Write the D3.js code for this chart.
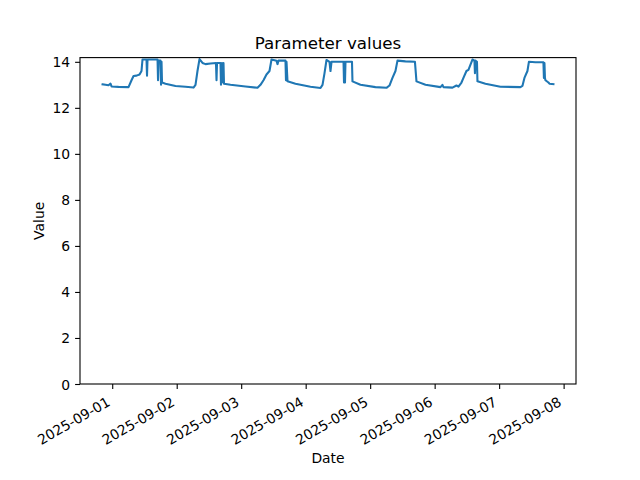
<!DOCTYPE html>
<html><head><meta charset="utf-8">
<script src="https://cdn.jsdelivr.net/npm/d3@7"></script>
<style>body{margin:0;background:#fff}svg{display:block}text{font-family:"DejaVu Sans",sans-serif;fill:#000}</style>
</head><body>
<script>
const times = [
"2025-08-31T20:24","2025-08-31T21:30","2025-08-31T22:37","2025-08-31T23:22","2025-08-31T23:45",
"2025-09-01T02:20","2025-09-01T06:04","2025-09-01T07:11","2025-09-01T07:56","2025-09-01T09:03",
"2025-09-01T10:10","2025-09-01T10:54","2025-09-01T11:16","2025-09-01T12:46","2025-09-01T12:57",
"2025-09-01T13:08","2025-09-01T16:52","2025-09-01T17:03","2025-09-01T17:14","2025-09-01T17:58",
"2025-09-01T18:10","2025-09-01T18:21","2025-09-01T18:32","2025-09-01T19:50","2025-09-01T23:33",
"2025-09-02T03:16","2025-09-02T06:15","2025-09-02T07:00","2025-09-02T07:44","2025-09-02T08:29",
"2025-09-02T09:36","2025-09-02T10:43","2025-09-02T12:35","2025-09-02T14:37","2025-09-02T14:49",
"2025-09-02T15:00","2025-09-02T16:18","2025-09-02T16:29","2025-09-02T16:51","2025-09-02T17:14",
"2025-09-02T17:25","2025-09-02T17:36","2025-09-02T20:01","2025-09-03T01:36","2025-09-03T06:04",
"2025-09-03T07:11","2025-09-03T08:18","2025-09-03T09:25","2025-09-03T10:32","2025-09-03T11:17",
"2025-09-03T13:08","2025-09-03T13:31","2025-09-03T13:53","2025-09-03T16:29","2025-09-03T16:40",
"2025-09-03T16:52","2025-09-03T17:14","2025-09-03T20:12","2025-09-04T01:47","2025-09-04T05:31",
"2025-09-04T06:16","2025-09-04T07:00","2025-09-04T07:45","2025-09-04T08:52","2025-09-04T09:14",
"2025-09-04T09:37","2025-09-04T14:05","2025-09-04T14:16","2025-09-04T14:27","2025-09-04T14:38",
"2025-09-04T14:49","2025-09-04T17:14","2025-09-04T17:25","2025-09-04T20:23","2025-09-05T01:58",
"2025-09-05T06:04","2025-09-05T07:11","2025-09-05T08:18","2025-09-05T09:25","2025-09-05T10:10",
"2025-09-05T13:08","2025-09-05T16:40","2025-09-05T17:14","2025-09-05T20:35","2025-09-06T02:10",
"2025-09-06T02:54","2025-09-06T03:17","2025-09-06T06:38","2025-09-06T08:07","2025-09-06T08:52",
"2025-09-06T09:59","2025-09-06T10:43","2025-09-06T11:50","2025-09-06T12:35","2025-09-06T14:04",
"2025-09-06T14:49","2025-09-06T15:00","2025-09-06T15:11","2025-09-06T15:45","2025-09-06T15:56",
"2025-09-06T18:54","2025-09-07T00:29","2025-09-07T07:56","2025-09-07T08:40","2025-09-07T09:25",
"2025-09-07T10:32","2025-09-07T11:05","2025-09-07T13:31","2025-09-07T16:29","2025-09-07T16:40",
"2025-09-07T16:52","2025-09-07T17:03","2025-09-07T17:14","2025-09-07T18:21","2025-09-07T18:43",
"2025-09-07T20:13"];
const values = [
13.02,13.0,12.98,13.05,12.93,
12.91,12.9,13.2,13.38,13.4,
13.45,13.6,14.1,14.1,13.4,
14.1,14.1,13.2,14.05,14.05,
13.0,14.0,13.1,13.05,12.95,
12.92,12.88,13.0,13.6,14.12,
13.95,13.9,13.93,13.95,13.2,
13.95,13.95,13.0,13.95,13.1,
13.95,13.05,13.0,12.93,12.87,
13.0,13.2,13.45,13.6,14.1,
14.05,13.9,14.05,14.05,13.2,
14.0,13.15,13.05,12.92,12.86,
13.0,13.5,14.08,14.0,13.6,
14.0,14.0,13.1,14.0,13.1,
14.0,14.0,13.15,13.0,12.9,
12.87,12.97,13.3,13.6,14.05,
14.02,14.0,13.15,13.0,12.9,
13.0,12.9,12.88,12.97,12.92,
13.1,13.3,13.6,13.65,14.1,
14.05,13.5,14.05,14.0,13.15,
13.05,12.92,12.9,12.95,13.3,
13.6,14.0,13.98,13.98,13.3,
13.95,13.3,13.2,13.1,13.05,
13.03];
const xTickLabels = ["2025-09-01","2025-09-02","2025-09-03","2025-09-04","2025-09-05","2025-09-06","2025-09-07","2025-09-08"];
const yTickValues = [0,2,4,6,8,10,12,14];
const titleText = "Parameter values", xLabel = "Date", yLabel = "Value";

const W=640,H=480, L=80, R=576, T=57.6, B=384;
const parse = d3.timeParse("%Y-%m-%dT%H:%M");
const data = times.map((t,i)=>({t:parse(t), v:values[i]}));
const ext = d3.extent(data,d=>+d.t), pad=(ext[1]-ext[0])*0.05;
const x = d3.scaleTime().domain([new Date(ext[0]-pad), new Date(ext[1]+pad)]).range([L,R]);
const vmin=d3.min(values), vmax=d3.max(values);
const y = d3.scaleLinear().domain([0, vmax+(vmax-vmin)*0.05]).range([B,T]);

const svg = d3.select("body").append("svg").attr("width",W).attr("height",H);
svg.append("rect").attr("width",W).attr("height",H).attr("fill","#fff");

const fs = 13.9;
// y axis
const ya = svg.append("g").attr("transform",`translate(${L},0)`)
  .call(d3.axisLeft(y).tickValues(yTickValues).tickSize(4.9).tickPadding(4.9).tickFormat(d3.format("d")));
ya.select(".domain").remove();
ya.selectAll("line").attr("stroke","#000").attr("stroke-width",1.1);
ya.selectAll("text").attr("font-size",fs).attr("font-family","DejaVu Sans").attr("dy","0.36em");

// x axis
const tickDates = xTickLabels.map(s=>d3.timeParse("%Y-%m-%d")(s));
const xa = svg.append("g").attr("transform",`translate(0,${B})`)
  .call(d3.axisBottom(x).tickValues(tickDates).tickSize(4.9).tickFormat((d,i)=>xTickLabels[i]));
xa.select(".domain").remove();
xa.selectAll("line").attr("stroke","#000").attr("stroke-width",1.1);
xa.selectAll("text").attr("font-size",fs).attr("font-family","DejaVu Sans")
  .attr("text-anchor","end").attr("y",null).attr("dy",null)
  .attr("transform","translate(-1.6,20.8) rotate(-30)");

// line
svg.append("path").datum(data)
  .attr("fill","none").attr("stroke","#1f77b4").attr("stroke-width",2.08)
  .attr("stroke-linejoin","round").attr("stroke-linecap","square")
  .attr("d", d3.line().x(d=>x(d.t)).y(d=>y(d.v)));

// frame
svg.append("rect").attr("x",L).attr("y",T).attr("width",R-L).attr("height",B-T)
  .attr("fill","none").attr("stroke","#000").attr("stroke-width",1.1);

svg.append("text").attr("x",(L+R)/2).attr("y",49.3).attr("text-anchor","middle").attr("font-size",16.7).text(titleText);
svg.append("text").attr("x",(L+R)/2).attr("y",463).attr("text-anchor","middle").attr("font-size",fs).text(xLabel);
svg.append("text").attr("transform",`translate(44,${(T+B)/2}) rotate(-90)`).attr("text-anchor","middle").attr("font-size",fs).text(yLabel);
</script>
</body></html>
